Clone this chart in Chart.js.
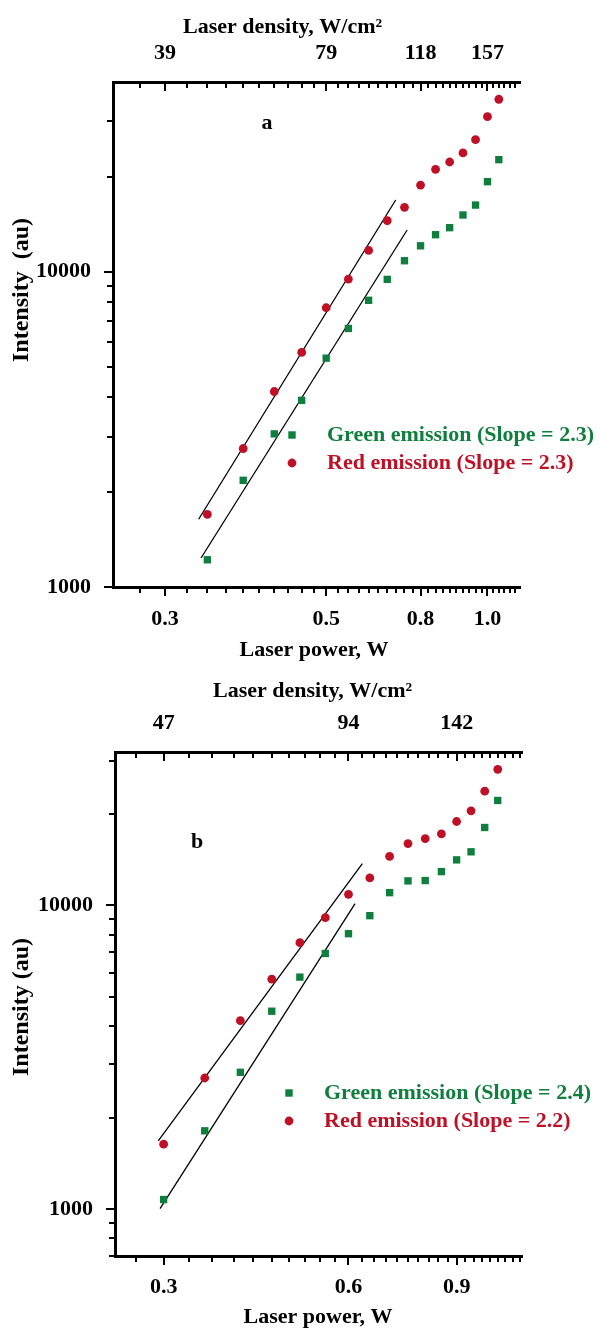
<!DOCTYPE html>
<html>
<head>
<meta charset="utf-8">
<script src="https://cdn.jsdelivr.net/npm/chart.js@4.4.1/dist/chart.umd.min.js"></script>
<style>
  html, body { margin: 0; padding: 0; background: #fff; }
  #wrap { position: relative; width: 602px; height: 1328px; }
  canvas { position: absolute; left: 0; }
</style>
</head>
<body>
<div id="wrap">
  <canvas id="chartA" width="602" height="664" style="top:0"></canvas>
  <canvas id="chartB" width="602" height="664" style="top:664px"></canvas>
</div>
<script>
// laser power (W) of every measured point, same for both panels
const powerW = [0.3, 0.35, 0.4, 0.45, 0.5, 0.55, 0.6, 0.65, 0.7, 0.75, 0.8, 0.85, 0.9, 0.95, 1.0, 1.05];

// panel a
const greenA = [1220, 2180, 3060, 3910, 5320, 6610, 8120, 9460, 10840, 12090, 13110, 13800, 15140, 16280, 19310, 22680];
const redA = [1700, 2750, 4170, 5550, 7690, 9480, 11690, 14520, 16010, 18840, 21140, 22300, 23820, 26240, 31050, 35260];
const fitGreenAx = [0.292, 0.708];
const fitGreenAy = [1236, 13570];
const fitRedAx = [0.289, 0.674];
const fitRedAy = [1640, 16890];
const majorA = [0.25, 0.5, 0.75, 1.0];
const powerLabelsA = ['0.3', '0.5', '0.8', '1.0'];
const densityLabelsA = ['39', '79', '118', '157'];

// panel b
const greenB = [1074, 1809, 2820, 4481, 5803, 6943, 8066, 9248, 11010, 12040, 12070, 12920, 14120, 15010, 18050, 22160];
const redB = [1635, 2700, 4170, 5715, 7536, 9107, 10870, 12310, 14510, 15980, 16600, 17200, 18890, 20490, 23780, 28050];
const fitGreenBx = [0.296, 0.615];
const fitGreenBy = [1003, 10130];
const fitRedBx = [0.294, 0.632];
const fitRedBy = [1676, 13730];
const majorB = [0.3, 0.6, 0.9];
const powerLabelsB = ['0.3', '0.6', '0.9'];
const densityLabelsB = ['47', '94', '142'];

const yMajor = [1000, 10000];

const GREEN = '#0e7f3d';
const RED = '#bf1026';
const FONT = 'Liberation Serif';

function near(a, b) { return Math.abs(a - b) < 1e-9; }

// minor ticks every tenth of a major step, edges left out
function xTicks(step, from, to, majors) {
  const out = [];
  for (let k = from; k <= to; k++) {
    const v = +(k * step).toFixed(4);
    out.push({ value: v, major: majors.some(m => near(m, v)) });
  }
  return out;
}

function yTicks(min, max) {
  const out = [];
  [100, 1000, 10000].forEach(d => {
    for (let m = 1; m <= 9; m++) {
      const v = m * d;
      if (v >= min && v < max) out.push({ value: v, major: yMajor.includes(v) });
    }
  });
  return out;
}

// origin style tick marks: out on left/bottom, pointing down on the top axis
const tickMarks = {
  id: 'tickMarks',
  afterDraw(chart) {
    const ctx = chart.ctx;
    ctx.save();
    ctx.strokeStyle = '#000';
    ctx.lineWidth = 2;
    ['x', 'xTop', 'y'].forEach(id => {
      const s = chart.scales[id];
      s.ticks.forEach(t => {
        const len = t.major ? 9 : 6;
        const px = Math.round(s.getPixelForValue(t.value));
        ctx.beginPath();
        if (id === 'y') { ctx.moveTo(s.right, px); ctx.lineTo(s.right - len, px); }
        else if (id === 'x') { ctx.moveTo(px, s.top); ctx.lineTo(px, s.top + len); }
        else { ctx.moveTo(px, s.bottom); ctx.lineTo(px, s.bottom + len); }
        ctx.stroke();
      });
    });
    ctx.restore();
  }
};

function textPlugin(p) {
  return {
    id: 'freeText',
    afterDraw(chart) {
      const ctx = chart.ctx;
      ctx.save();
      ctx.font = 'bold 22px "' + FONT + '"';
      ctx.fillStyle = '#000';
      ctx.textAlign = 'left';
      ctx.textBaseline = 'alphabetic';
      ctx.fillText('Laser density, W/cm\u00b2', p.topTitle[0], p.topTitle[1]);
      ctx.textAlign = 'center';
      ctx.fillText('Laser power, W', p.bottomTitle[0], p.bottomTitle[1]);
      ctx.textBaseline = 'middle';
      ctx.fillText(p.letter, p.letterPos[0], p.letterPos[1]);
      // y title
      ctx.save();
      ctx.font = 'bold 24px "' + FONT + '"';
      ctx.translate(p.yTitle[0], p.yTitle[1]);
      ctx.rotate(-Math.PI / 2);
      ctx.fillText(p.yText, 0, 0);
      ctx.restore();
      // legend
      const [lx, ly, gap, tx] = p.legend;
      const side = 7.4;
      ctx.fillStyle = GREEN;
      ctx.fillRect(lx - side / 2, ly - side / 2, side, side);
      ctx.fillStyle = RED;
      ctx.beginPath();
      ctx.arc(lx, ly + gap, 4.4, 0, Math.PI * 2);
      ctx.fill();
      ctx.textAlign = 'left';
      ctx.fillStyle = GREEN;
      ctx.fillText('Green emission (Slope = ' + p.slopes[0] + ')', tx, ly);
      ctx.fillStyle = RED;
      ctx.fillText('Red emission (Slope = ' + p.slopes[1] + ')', tx, ly + gap);
      ctx.restore();
    }
  };
}

function makeChart(id, p) {
  const W = 602, H = 664;
  const area = p.area;
  const tickFont = { family: FONT, size: 22, weight: 'bold' };
  const axisBase = {
    type: 'logarithmic',
    grid: { display: false },
    border: { display: true, color: '#000', width: 3 }
  };
  const zeroPad = s => { s.paddingLeft = s.paddingRight = s.paddingTop = s.paddingBottom = 0; };
  const pts = (xs, ys) => xs.map((x, i) => ({ x: x, y: ys[i] }));

  new Chart(document.getElementById(id), {
    type: 'scatter',
    data: {
      datasets: [
        { data: pts(powerW, p.green), pointStyle: 'rect', pointRadius: 5.2, backgroundColor: GREEN, borderWidth: 0 },
        { data: pts(powerW, p.red), pointStyle: 'circle', pointRadius: 4.4, backgroundColor: RED, borderWidth: 0 },
        { data: pts(p.fitGreen[0], p.fitGreen[1]), showLine: true, pointRadius: 0, borderColor: '#000', borderWidth: 1.3 },
        { data: pts(p.fitRed[0], p.fitRed[1]), showLine: true, pointRadius: 0, borderColor: '#000', borderWidth: 1.3 }
      ]
    },
    options: {
      responsive: false,
      animation: false,
      devicePixelRatio: 1,
      layout: { padding: { left: 0, top: 0, right: W - area.right, bottom: 0 } },
      plugins: { legend: { display: false }, tooltip: { enabled: false } },
      scales: {
        x: Object.assign({}, axisBase, {
          position: 'bottom', min: p.xMin, max: p.xMax,
          ticks: {
            autoSkip: false, maxRotation: 0, color: '#000', font: tickFont, padding: p.padBottom,
            callback: v => { const i = p.majors.findIndex(m => near(m, v)); return i < 0 ? '' : p.powerLabels[i]; }
          },
          afterBuildTicks: s => { s.ticks = xTicks(p.step, p.kFrom, p.kTo, p.majors); },
          afterFit: s => { s.height = H - area.bottom; zeroPad(s); }
        }),
        xTop: Object.assign({}, axisBase, {
          axis: 'x', position: 'top', min: p.xMin, max: p.xMax,
          ticks: {
            autoSkip: false, maxRotation: 0, color: '#000', font: tickFont, padding: p.padTop,
            callback: v => { const i = p.majors.findIndex(m => near(m, v)); return i < 0 ? '' : p.densityLabels[i]; }
          },
          afterBuildTicks: s => { s.ticks = xTicks(p.step, p.kFrom, p.kTo, p.majors); },
          afterFit: s => { s.height = area.top; zeroPad(s); }
        }),
        y: Object.assign({}, axisBase, {
          position: 'left', min: p.yMin, max: p.yMax,
          ticks: {
            autoSkip: false, color: '#000', font: tickFont, padding: 14,
            callback: v => (yMajor.includes(v) ? String(v) : '')
          },
          afterBuildTicks: s => { s.ticks = yTicks(p.yMin, p.yMax); },
          afterFit: s => { s.width = area.left; zeroPad(s); }
        })
      }
    },
    plugins: [tickMarks, textPlugin(p)]
  });
}

makeChart('chartA', {
  area: { left: 113, top: 82, right: 520, bottom: 587 },
  xMin: 0.2, xMax: 1.15, step: 0.025, kFrom: 9, kTo: 45,
  majors: majorA, powerLabels: powerLabelsA, densityLabels: densityLabelsA,
  yMin: 1000, yMax: 40000,
  green: greenA, red: redA,
  fitGreen: [fitGreenAx, fitGreenAy], fitRed: [fitRedAx, fitRedAy],
  padTop: 7, padBottom: 11,
  topTitle: [183, 33], bottomTitle: [314, 656],
  yTitle: [22, 290], yText: 'Intensity  (au)',
  letter: 'a', letterPos: [267, 123],
  legend: [292, 435, 28, 327], slopes: ['2.3', '2.3']
});

makeChart('chartB', {
  area: { left: 115, top: 88, right: 522, bottom: 592 },
  xMin: 0.25, xMax: 1.15, step: 0.03, kFrom: 9, kTo: 38,
  majors: majorB, powerLabels: powerLabelsB, densityLabels: densityLabelsB,
  yMin: 700, yMax: 32000,
  green: greenB, red: redB,
  fitGreen: [fitGreenBx, fitGreenBy], fitRed: [fitRedBx, fitRedBy],
  padTop: 7, padBottom: 10,
  topTitle: [213, 33], bottomTitle: [318, 659],
  yTitle: [22, 343], yText: 'Intensity (au)',
  letter: 'b', letterPos: [197, 178],
  legend: [289, 429, 28, 324], slopes: ['2.4', '2.2']
});
</script>
</body>
</html>
